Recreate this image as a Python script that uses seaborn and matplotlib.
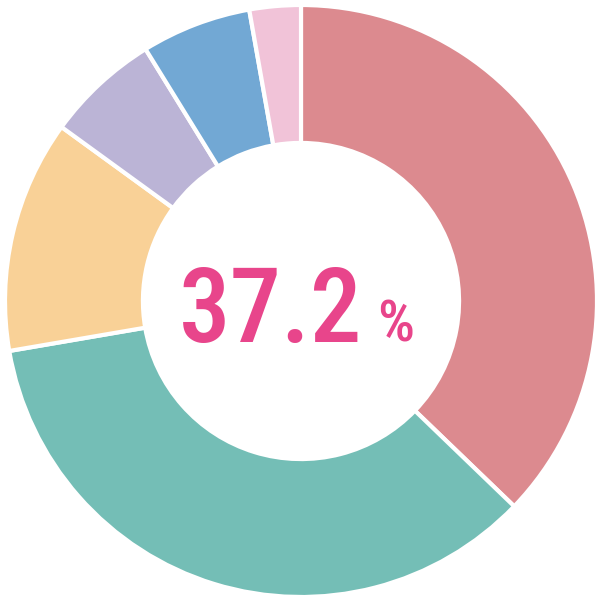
import matplotlib
matplotlib.use("Agg")
import matplotlib.pyplot as plt
import seaborn as sns

sns.set_theme(style="white")
plt.rcParams['font.family'] = ['Roboto Condensed', 'DejaVu Sans Condensed', 'Roboto', 'DejaVu Sans']

categories = ["A", "B", "C", "D", "E", "F"]
values = [37.2, 35.1, 12.7, 6.2, 6.0, 2.8]
colors = ["#DC8A8F", "#74BEB6", "#F9D197", "#BBB4D6", "#72A8D4", "#F1C3D8"]
center_value = "37.2"
center_unit = "%"

fig = plt.figure(figsize=(6, 6), dpi=100)
ax = fig.add_axes([0, 0, 1, 1])
ax.pie(values, colors=colors, startangle=90, counterclock=False,
       radius=1.0, wedgeprops=dict(width=0.466, edgecolor="white", linewidth=3.0))
R = 296.0
ax.set_xlim(-301 / R, 299 / R)
ax.set_ylim(-299 / R, 301 / R)
ax.set_aspect("equal")
ax.axis("off")

txt_color = "#E8458B"
fig.text(362 / 600, (600 - 342) / 600, center_value, ha="right", va="baseline",
         fontsize=74, color=txt_color, fontweight="medium", fontstretch="condensed")
fig.text(377 / 600, (600 - 342) / 600, center_unit, ha="left", va="baseline",
         fontsize=42, color=txt_color, fontweight="medium", fontstretch="condensed")

fig.savefig("out.png", dpi=100)
